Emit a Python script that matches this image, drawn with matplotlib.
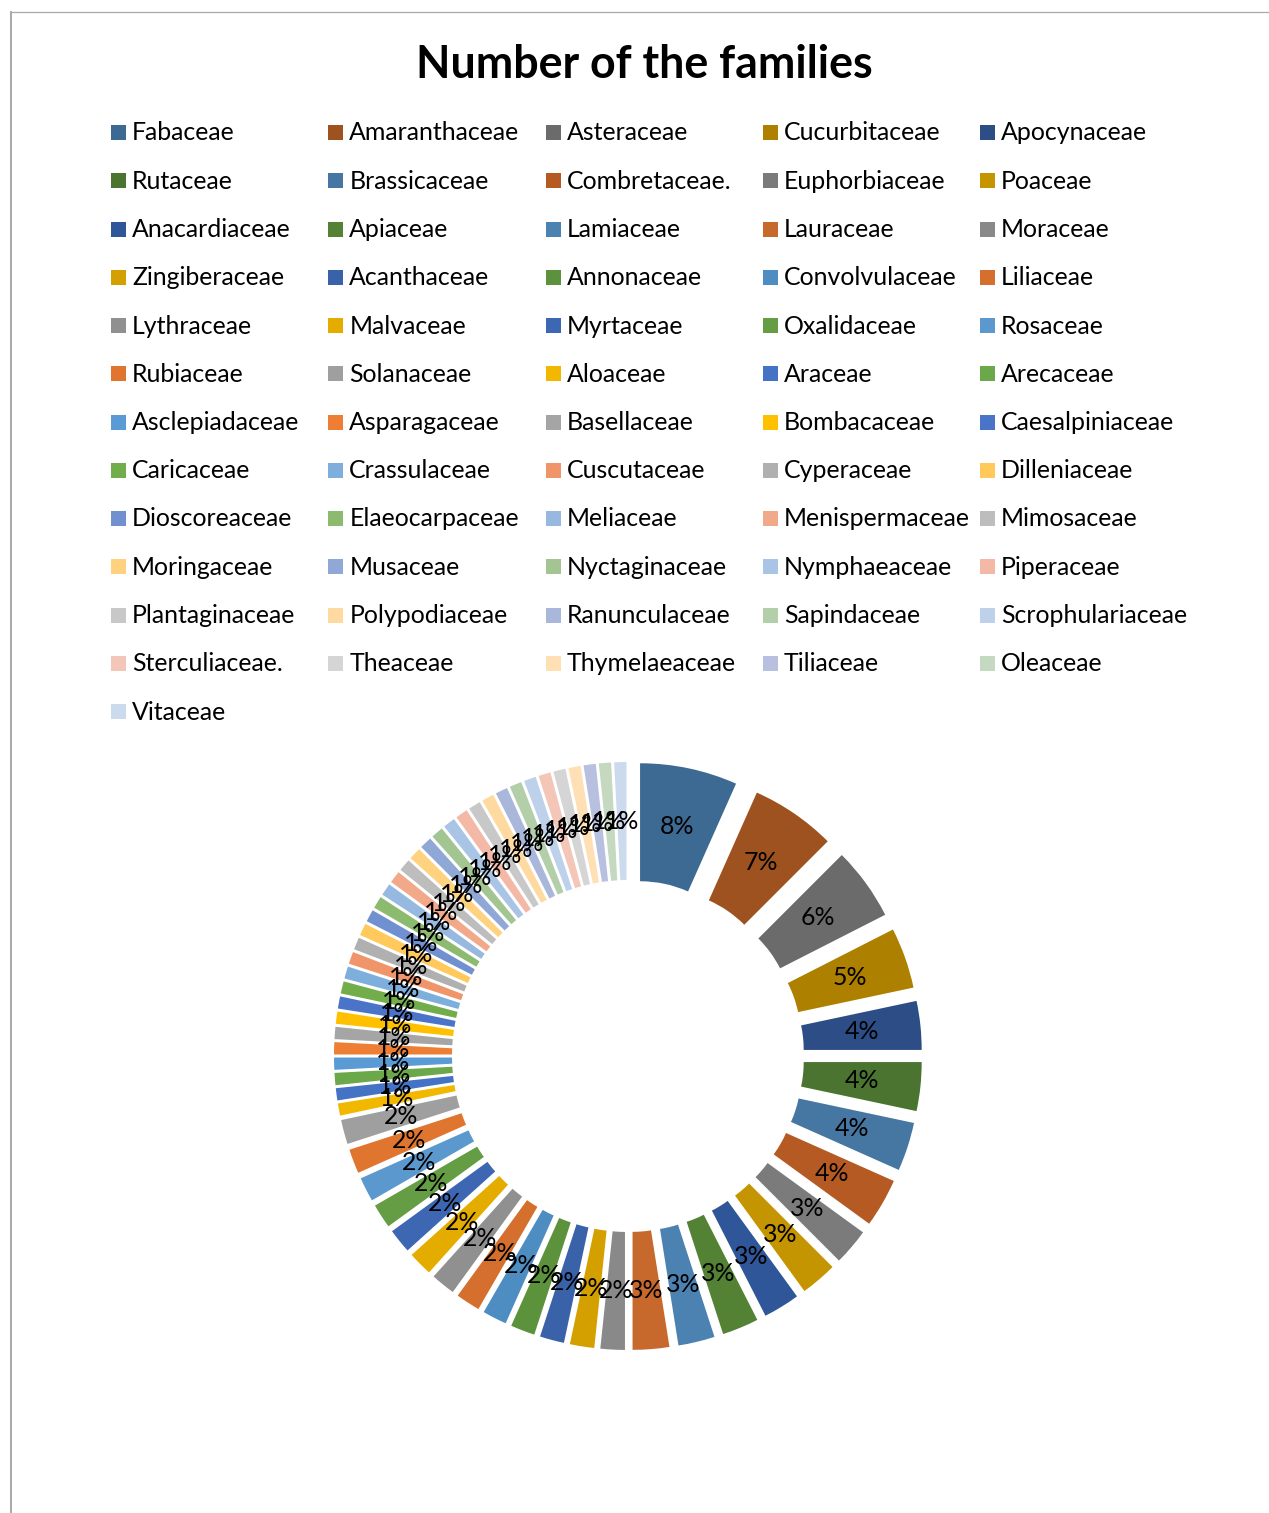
import matplotlib
matplotlib.use("Agg")
import matplotlib.pyplot as plt
from matplotlib.patches import Rectangle

# ---- data -------------------------------------------------------------
families = [
    "Fabaceae", "Amaranthaceae", "Asteraceae", "Cucurbitaceae", "Apocynaceae",
    "Rutaceae", "Brassicaceae", "Combretaceae.", "Euphorbiaceae", "Poaceae",
    "Anacardiaceae", "Apiaceae", "Lamiaceae", "Lauraceae", "Moraceae",
    "Zingiberaceae", "Acanthaceae", "Annonaceae", "Convolvulaceae", "Liliaceae",
    "Lythraceae", "Malvaceae", "Myrtaceae", "Oxalidaceae", "Rosaceae",
    "Rubiaceae", "Solanaceae", "Aloaceae", "Araceae", "Arecaceae",
    "Asclepiadaceae", "Asparagaceae", "Basellaceae", "Bombacaceae", "Caesalpiniaceae",
    "Caricaceae", "Crassulaceae", "Cuscutaceae", "Cyperaceae", "Dilleniaceae",
    "Dioscoreaceae", "Elaeocarpaceae", "Meliaceae", "Menispermaceae", "Mimosaceae",
    "Moringaceae", "Musaceae", "Nyctaginaceae", "Nymphaeaceae", "Piperaceae",
    "Plantaginaceae", "Polypodiaceae", "Ranunculaceae", "Sapindaceae", "Scrophulariaceae",
    "Sterculiaceae.", "Theaceae", "Thymelaeaceae", "Tiliaceae", "Oleaceae",
    "Vitaceae",
]

percent = [8, 7, 6, 5, 4, 4, 4, 4, 3, 3, 3, 3, 3, 3] + [2] * 13 + [1] * 34

colors = [
    "#3D6A92", "#9E5220", "#6B6B6B", "#AD8000", "#2D4D86",
    "#4A7430", "#4677A2", "#B55A23", "#7B7B7B", "#C49500",
    "#30569A", "#538235", "#4C82B2", "#C7682C", "#898989",
    "#D4A000", "#3A62A8", "#5C923C", "#4E8DC2", "#D56F2D",
    "#909090", "#E5AC00", "#3D67B2", "#649D43", "#5B98CE",
    "#E07530", "#9F9F9F", "#F2B800", "#4472C4", "#6BA84A",
    "#5A9BD5", "#ED7E33", "#A5A5A5", "#FFC000", "#4A74C8",
    "#71AD4A", "#7DAEDC", "#F0956A", "#B0B0B0", "#FFC95C",
    "#7190CF", "#8CBB70", "#97B9E0", "#F2A98A", "#BDBDBD",
    "#FFD27F", "#90A8D6", "#A3C592", "#AAC4E6", "#F4B9A6",
    "#C8C8C8", "#FFDAA0", "#A8B7DA", "#B2CFAA", "#BDD1EA",
    "#F4C6B8", "#D5D5D5", "#FFE0B5", "#B8C0E0", "#C4D9C0",
    "#CCDAEE",
]

TITLE = "Number of the families"
FONT = "Lato"

# ---- canvas: one axes spanning the figure, in pixel units ---------------
W, H = 1269, 1513
fig = plt.figure(figsize=(W / 100, H / 100), dpi=100)
ax = fig.add_axes([0, 0, 1, 1])
renderer = fig.canvas.get_renderer()


def size_for_width(text, width_px, weight="normal", base=20.0):
    """Font size (pt) at which `text` is `width_px` pixels wide."""
    t = fig.text(0, 0, text, fontsize=base, family=FONT, weight=weight)
    w = t.get_window_extent(renderer=renderer).width
    t.remove()
    return base * width_px / w


body_size = size_for_width("Amaranthaceae", 171)
title_size = size_for_width(TITLE, 457, weight="bold")

# ---- exploded doughnut -------------------------------------------------
total = sum(percent)
cx, cy = 628, H - 1056
R = 236
ax.pie(
    percent,
    colors=colors,
    startangle=90,
    counterclock=False,
    radius=R,
    center=(cx, cy),
    explode=[58] * len(percent),
    wedgeprops=dict(width=R * 0.5, linewidth=0),
    autopct=lambda p: f"{p * total / 100:.0f}%",
    pctdistance=0.75,
    textprops=dict(fontsize=body_size, family=FONT, color="black"),
)
ax.set_xlim(0, W)
ax.set_ylim(0, H)
ax.set_aspect("auto")
ax.axis("off")

# ---- title ---------------------------------------------------------------
ax.text(644.5, H - 78, TITLE, ha="center", va="baseline",
        fontsize=title_size, weight="bold", family=FONT, color="black")

# ---- legend: 5 columns, filled row by row --------------------------------
col_x0, col_step = 111, 217.25
row_y0, row_step = 132.5, 48.25
box = 15
for i, (name, col) in enumerate(zip(families, colors)):
    r, c = divmod(i, 5)
    x = col_x0 + col_step * c
    y = row_y0 + row_step * r
    ax.add_patch(Rectangle((x, H - y - box / 2), box, box,
                           facecolor=col, edgecolor="none"))
    ax.text(x + 21, H - y - 8, name, ha="left", va="baseline",
            fontsize=body_size, family=FONT, color="black")

# ---- chart-area frame (top and left edges) --------------------------------
ax.plot([10, W], [H - 11.5, H - 11.5], color="#A8A8A8", lw=0.9,
        solid_capstyle="butt", clip_on=False)
ax.plot([11, 11], [H - 11, 0], color="#A8A8A8", lw=1.4,
        solid_capstyle="butt", clip_on=False)

fig.savefig("out.png", dpi=100, facecolor="white")
